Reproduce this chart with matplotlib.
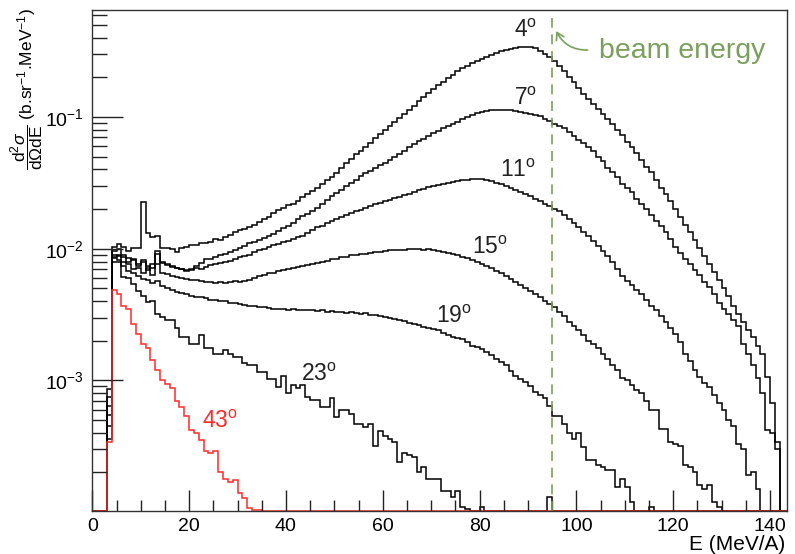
#Energy spectra of fragments at several angles, log scale, ROOT-like look.
import numpy as np
import matplotlib.pyplot as plt
from matplotlib.ticker import MultipleLocator, LogLocator, NullFormatter
from matplotlib.patches import FancyArrowPatch

plt.rcParams['font.family'] = ['Liberation Sans', 'DejaVu Sans']
plt.rcParams['mathtext.fontset'] = 'custom'
plt.rcParams['mathtext.rm'] = 'Liberation Sans'
plt.rcParams['mathtext.it'] = 'Liberation Sans:italic'
plt.rcParams['mathtext.bf'] = 'Liberation Sans:bold'

#1 MeV/A bins, first filled bin is [3,4). values in mb/(sr MeV)
e_first = 3
e_last = 144
beam_energy = 95

deg4 = [0.86,
        10.3, 10.8, 10.3, 9.6, 10.1, 10.1,
        22.7, 13.1, 12.2, 12.4, 10.1, 10.1, 10.0, 9.4, 10.1, 10.3,
        10.6, 10.6, 11.0, 11.0, 11.3, 11.8, 11.6, 12.3, 12.8, 13.4,
        13.8, 14.2, 14.6, 15.1, 16.0, 16.8, 17.5, 18.6, 19.6, 20.5,
        21.3, 22.0, 23.0, 24.5, 26.0, 27.3, 29.0, 30.8, 33.0, 35.3,
        37.8, 41.0, 44.5, 48.0, 52.0, 55.5, 59.5, 64.0, 69.0, 74.0,
        80, 86, 92, 99, 106, 114, 122, 132, 142, 152,
        163, 174, 186, 198, 210, 222, 234, 245, 256, 267,
        278, 288, 298, 307, 315, 323, 330, 335, 338, 340,
        338, 332, 320, 302, 284, 265, 244, 222, 202, 183,
        166, 150, 138, 126, 116, 106, 96, 88, 80, 73,
        65, 59, 53, 47, 42, 38, 33, 29, 26, 23,
        20, 17.5, 15.2, 13.3, 11.6, 10.1, 8.8, 7.6, 6.7, 5.8,
        5.0, 4.4, 3.7, 3.2, 2.8, 2.4, 2.15, 1.84, 1.6, 1.06,
        0.67, 0.30, 0.1]

deg7 = [0.75,
        9.6, 9.9, 9.0, 8.5, 8.2, 7.6,
        8.2, 7.4, 7.2, 9.6, 8.0, 7.6, 7.4, 7.2, 7.0, 6.9,
        7.0, 7.4, 7.8, 8.3, 8.3, 8.6, 8.9, 9.1, 9.4, 9.8,
        10.1, 10.5, 11.0, 11.3, 11.7, 12.0, 12.4, 13.0, 13.6, 14.3,
        15.0, 15.8, 16.7, 17.6, 18.5, 19.5, 20.5, 22.0, 23.5, 25.0,
        26.6, 28.0, 29.8, 31.3, 33.5, 35.5, 37.5, 39.0, 41.0, 43.0,
        44.5, 47.5, 50.0, 52.5, 55.5, 59.0, 62.0, 65.5, 68.5, 72.0,
        75, 79, 83, 86, 89, 92, 96, 100, 104, 107,
        110, 112, 113, 114, 114, 114, 113, 112, 110, 108,
        106, 104, 101, 97, 93, 89, 86, 82, 77, 72,
        67, 63, 59, 55, 50, 46, 41, 38, 35, 31,
        29, 27, 24, 22, 20, 18, 16.2, 14.8, 13.3, 11.8,
        10.3, 9.3, 8.4, 7.6, 6.9, 6.3, 5.6, 5.1, 4.5, 3.9,
        3.5, 3.2, 2.9, 2.6, 1.9, 1.6, 1.3, 1.05, 0.8, 0.42,
        0.40, 0.34]

deg11 = [0.64,
         9.0, 8.8, 8.6, 8.0, 8.4, 7.4,
         7.9, 6.9, 7.6, 9.2, 7.8, 7.5, 7.3, 7.1, 7.0, 6.8,
         6.9, 7.1, 7.0, 7.3, 7.5, 7.6, 7.8, 8.0, 8.1, 8.3,
         8.6, 8.8, 9.0, 9.4, 9.7, 10.0, 10.3, 10.6, 10.9, 11.2,
         11.5, 11.9, 12.2, 12.6, 13.1, 13.8, 14.5, 15.0, 15.6, 16.2,
         16.8, 17.4, 18.0, 18.6, 19.2, 19.8, 20.5, 21.2, 21.8, 22.4,
         23.0, 23.6, 24.2, 24.8, 25.5, 26.2, 27.0, 27.8, 28.5, 29.2,
         29.8, 30.5, 31.2, 31.8, 32.3, 32.8, 33.2, 33.5, 33.7, 33.8,
         33.6, 33.2, 32.5, 31.8, 30.9, 30.0, 29.0, 28.0, 27.0, 26.0,
         25.0, 24.0, 23.0, 22.0, 21.0, 20.0, 19.2, 18.0, 16.8, 15.7,
         14.6, 13.5, 12.4, 11.4, 10.4, 9.6, 8.8, 7.9, 7.0, 6.2,
         5.7, 5.3, 4.9, 4.55, 4.1, 3.7, 3.4, 3.1, 2.8, 2.5,
         2.25, 1.95, 1.6, 1.4, 1.2, 1.06, 0.95, 0.89, 0.78, 0.67,
         0.60, 0.50, 0.45, 0.33, 0.30, 0.19, 0.20, 0.15]

deg15 = [0.55,
         8.7, 9.0, 8.0, 7.6, 7.0, 7.1,
         6.6, 7.2, 6.3, 7.6, 6.6, 6.4, 6.2, 6.1, 6.0, 5.9,
         5.8, 5.8, 5.7, 5.6, 5.6, 5.5, 5.6, 5.5, 5.6, 5.7,
         5.6, 5.7, 5.8, 6.0, 6.2, 6.3, 6.5, 6.6, 6.8, 6.9,
         7.0, 7.1, 7.3, 7.4, 7.5, 7.7, 7.8, 8.0, 8.1, 8.3,
         8.4, 8.6, 8.7, 8.9, 9.0, 9.1, 9.2, 9.3, 9.4, 9.5,
         9.6, 9.7, 9.7, 9.8, 9.8, 9.9, 9.9, 9.9, 9.8, 9.9,
         9.7, 9.6, 9.5, 9.3, 9.1, 8.9, 8.7, 8.5, 8.2, 8.0,
         7.7, 7.4, 7.1, 6.8, 6.5, 6.2, 5.9, 5.6, 5.3, 5.0,
         4.8, 4.5, 4.3, 4.0, 3.8, 3.6, 3.3, 3.1, 2.8, 2.6,
         2.4, 2.2, 2.0, 1.9, 1.75, 1.6, 1.45, 1.3, 1.2, 1.05,
         1.0, 0.93, 0.85, 0.80, 0.70, 0.60, 0.60, 0.43, 0.43, 0.34,
         0.33, 0.32, 0.23, 0.22, 0.20, 0.16, 0.15, 0.16, 0.12, 0.11]

deg19 = [0.45,
         8.5, 8.2, 7.4, 6.8, 6.5, 6.2,
         5.9, 5.8, 5.5, 5.7, 5.2, 5.0, 4.9, 4.7, 4.6, 4.5,
         4.4, 4.3, 4.3, 4.2, 4.1, 4.1, 4.0, 4.0, 3.9, 3.9,
         3.8, 3.75, 3.7, 3.65, 3.6, 3.6, 3.55, 3.5, 3.5, 3.5,
         3.45, 3.5, 3.4, 3.45, 3.4, 3.4, 3.35, 3.4, 3.3, 3.35,
         3.3, 3.3, 3.25, 3.3, 3.25, 3.2, 3.25, 3.15, 3.15, 3.1,
         3.05, 3.0, 2.95, 2.9, 2.85, 2.75, 2.7, 2.62, 2.55, 2.5,
         2.45, 2.4, 2.3, 2.2, 2.15, 2.1, 2.05, 1.95, 1.84, 1.78,
         1.72, 1.65, 1.55, 1.45, 1.38, 1.3, 1.18, 1.09, 1.03, 0.97,
         0.90, 0.82, 0.77, 0.73, 0.64, 0.54, 0.54, 0.47, 0.40, 0.36,
         0.40, 0.31, 0.25, 0.25, 0.23, 0.22, 0.21, 0.21, 0.155, 0.18,
         0.155, 0.12, 0, 0, 0, 0.11]

deg23 = [0.36,
         7.9, 7.9, 6.1, 6.0, 5.4, 4.8,
         4.4, 3.95, 4.0, 3.2, 3.05, 2.86, 2.86, 2.5, 2.13, 2.13,
         1.9, 1.9, 2.2, 1.75, 1.75, 1.6, 1.6, 1.7, 1.6, 1.5,
         1.5, 1.35, 1.3, 1.3, 1.16, 1.16, 1.02, 1.02, 0.89, 1.09,
         0.80, 0.93, 0.87, 0.93, 0.75, 0.71, 0.71, 0.63, 0.63, 0.73,
         0.53, 0.60, 0.60, 0.56, 0.47, 0.47, 0.44, 0.47, 0.32, 0.41,
         0.38, 0.36, 0.34, 0.24, 0.28, 0.27, 0.26, 0.20, 0.22, 0.18,
         0.18, 0.18, 0.145, 0.145, 0.13, 0.145, 0.11, 0.105, 0, 0,
         0.11, 0, 0, 0, 0, 0, 0, 0, 0, 0,
         0, 0, 0, 0, 0.13]

deg43 = [0.34,
         4.9, 4.55, 3.7, 3.5, 2.7, 2.25, 1.9, 1.75, 1.42, 1.2,
         1.0, 0.94, 0.87, 0.70, 0.63, 0.54, 0.42, 0.40, 0.35, 0.29,
         0.28, 0.29, 0.20, 0.18, 0.17, 0.175, 0.14, 0.128, 0.107, 0.104, 0.104]

black_hists = [deg4, deg7, deg11, deg15, deg19, deg23]

#angle, x centre, baseline of the label
labels = [("4", 89.5, 0.406), ("7", 89.5, 0.1234), ("11", 88.0, 0.0350),
          ("15", 82.2, 0.00908), ("19", 74.8, 0.00271), ("23", 46.8, 0.000983)]

ymin = 1.02e-4
ymax = 0.65
edges = np.arange(0, e_last + 1)
green = '#7b9f5c'


def to_hist(vals):
    #mb -> b, fill empty bins with the axis minimum like ROOT does
    h = np.zeros(e_last)
    h[e_first:e_first + len(vals)] = vals
    h = h * 1e-3
    return np.clip(h, ymin, None)


fig = plt.figure(figsize=(7.95, 5.54), dpi=100)
ax = fig.add_axes([0.1161, 0.0776, 0.8738, 0.9044])

for vals in black_hists:
    ax.stairs(to_hist(vals), edges, color='black', lw=1.1, baseline=None)
ax.stairs(to_hist(deg43), edges, color='#ff2a2a', lw=1.1, baseline=None)

ax.vlines(beam_energy, ymin, 0.56, colors=green, linestyles=(0, (6, 4)), lw=1.2)

ax.set_yscale('log')
ax.set_xlim(0, 143.5)
ax.set_ylim(ymin, ymax)

ax.xaxis.set_major_locator(MultipleLocator(20))
ax.xaxis.set_minor_locator(MultipleLocator(5))
ax.yaxis.set_major_locator(LogLocator(base=10, numticks=10))
ax.yaxis.set_minor_locator(LogLocator(base=10, subs=np.arange(2, 10), numticks=20))
ax.yaxis.set_minor_formatter(NullFormatter())

ax.tick_params(which='both', direction='in', top=False, right=False, width=1.0, color='#222222')
ax.tick_params(axis='x', which='major', length=15, pad=5, labelsize=14)
ax.tick_params(axis='x', which='minor', length=8)
ax.tick_params(axis='y', which='major', length=22, pad=6, labelsize=14)
ax.tick_params(axis='y', which='minor', length=11)
for s in ax.spines.values():
    s.set_linewidth(1.0)
    s.set_color('#333333')

for txt, x, y in labels:
    ax.text(x, y, txt + r'$^{\mathrm{o}}$', ha='center', va='baseline', fontsize=16.5, color='#222222')
ax.text(26.4, 0.000439, r'43$^{\mathrm{o}}$', ha='center', va='baseline', fontsize=16.5, color='#ff2a2a')

ax.text(121.9, 0.281, "beam energy", ha='center', va='baseline', fontsize=20.5, color=green)
arrow = FancyArrowPatch((102.9, 0.323), (95.6, 0.47), connectionstyle="arc3,rad=-0.35",
                        arrowstyle='->,head_length=5,head_width=3', color=green, lw=1.2)
ax.add_patch(arrow)

fig.text(27 / 795, 1 - 8 / 554,
         r'$\dfrac{\mathrm{d}^{2}\sigma}{\mathrm{d}\Omega\mathrm{dE}}$ (b.sr$^{-1}$.MeV$^{-1}$)',
         rotation=90, ha='center', va='top', fontsize=12.5)
fig.text(785 / 795, 1 - 545 / 554, "E (MeV/A)", ha='right', va='center', fontsize=15)

fig.savefig('out.png', dpi=100)
